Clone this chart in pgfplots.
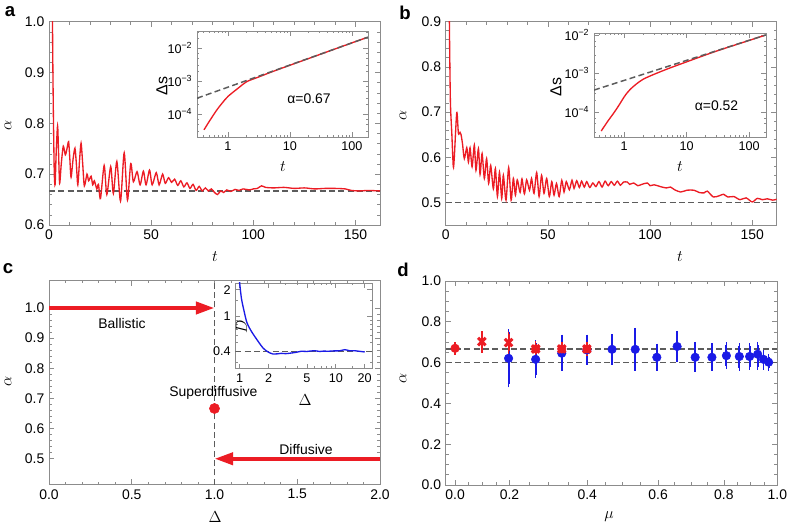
\documentclass[border=0pt]{standalone}
\usepackage{fontspec}
\setmainfont{Liberation Sans}
\usepackage{pgfplots}
\pgfplotsset{compat=1.18}
\usetikzlibrary{arrows.meta}
\definecolor{curvered}{HTML}{EC1C24}
\definecolor{curveblue}{HTML}{1A1AE6}
\definecolor{framegray}{HTML}{8C8C8C}
\definecolor{dashgray}{HTML}{5C5C5C}

\pgfplotsset{
  mmabox/.style={scale only axis, anchor=south west,
    axis line style={draw=framegray, line width=0.6bp},
    tick style={draw=framegray, line width=0.5bp},
    major tick length=4bp, minor tick length=2.2bp, tick align=inside,
    ticklabel style={font=\fontsize{10.5}{12}\selectfont, text=black},
    /pgf/number format/assume math mode=true,
    axis background/.style={fill=white}},
  inset/.style={mmabox, major tick length=3.5bp, minor tick length=1.8bp,
    ticklabel style={font=\fontsize{9.5}{11}\selectfont}},
  onedecy/.style={yticklabel style={/pgf/number format/fixed, /pgf/number format/fixed zerofill, /pgf/number format/precision=1}},
  onedecx/.style={xticklabel style={/pgf/number format/fixed, /pgf/number format/fixed zerofill, /pgf/number format/precision=1}},
  guide/.style={dashgray, line width=1.1bp, dash pattern=on 4.5bp off 2.5bp},
  bars/.style={error bars/.cd, y dir=both, y explicit,
    error bar style={draw=#1, line width=1.4bp},
    error mark options={draw=#1, line width=1.2bp, mark size=2.2bp}},
}

\begin{document}
\begin{tikzpicture}
\path[use as bounding box] (0,0) rectangle (591bp,-394.5bp);

% ---- a ----
\begin{axis}[mmabox, at={(36.75bp,-168.75bp)}, width=248.25bp, height=152.5bp,
  xmin=0, xmax=162, ymin=0.6, ymax=1.0,
  xtick={0,50,100,150}, minor x tick num=4,
  ytick={0.6,0.7,0.8,0.9,1.0}, minor y tick num=4, onedecy]
\addplot[guide] coordinates {(0,0.6667) (162,0.6667)};
\addplot[curvered, line width=1bp, smooth, tension=0.45] table {
t a
1.5 1.15
1.8 0.95
2.2 0.80
2.6 0.70
3.0 0.680
3.5 0.74
4.2 0.795
4.7 0.74
5.2 0.682
6.0 0.72
7.0 0.755
8.0 0.738
8.8 0.75
9.6 0.764
10.2 0.73
10.8 0.694
11.8 0.73
12.7 0.751
13.4 0.72
14.1 0.679
15.0 0.73
15.7 0.761
16.5 0.72
17.3 0.677
18.6 0.700
19.4 0.687
20.6 0.696
21.4 0.679
22.2 0.687
23.4 0.671
24.2 0.680
25.2 0.652
27.0 0.717
28.3 0.660
30.2 0.715
31.5 0.662
33.2 0.725
35.0 0.647
36.8 0.742
38.4 0.649
40.0 0.721
41.3 0.685
43.1 0.705
44.6 0.679
46.2 0.706
47.5 0.679
49.2 0.708
50.5 0.679
52.5 0.703
53.9 0.679
55.6 0.700
56.9 0.682
58.5 0.693
60.0 0.684
61.5 0.690
63.0 0.678
64.5 0.687
66.0 0.675
67.5 0.683
69.0 0.672
70.5 0.680
72.0 0.668
73.5 0.676
75.0 0.667
76.5 0.673
78.0 0.667
79.5 0.671
81.0 0.664
82.5 0.660
84.0 0.667
85.5 0.664
87.0 0.669
89.0 0.666
91.0 0.670
93.0 0.668
95.0 0.671
98.0 0.669
100.0 0.671
102.0 0.672
104.0 0.677
106.0 0.674
110.0 0.673
115.0 0.674
120.0 0.672
125.0 0.673
130.0 0.671
135.0 0.672
140.0 0.672
145.0 0.671
148.0 0.668
152.0 0.667
156.0 0.668
162.0 0.667
};
\end{axis}

\begin{axis}[inset, at={(147.75bp,-102.75bp)}, width=128.25bp, height=79.5bp,
  xmode=log, ymode=log, xmin=0.316, xmax=182, ymin=2e-5, ymax=0.0327,
  xtick={1,10,100}, xticklabels={1,10,100},
  minor xtick={0.4,0.5,0.6,0.7,0.8,0.9,2,3,4,5,6,7,8,9,20,30,40,50,60,70,80,90},
  ytick={1e-4,1e-3,1e-2}, yticklabels={10\textsuperscript{−4},10\textsuperscript{−3},10\textsuperscript{−2}},
  minor ytick={3e-5,5e-5,7e-5,2e-4,3e-4,5e-4,7e-4,2e-3,3e-3,5e-3,7e-3,2e-2,3e-2}]
\addplot[curvered, line width=1bp, smooth] coordinates {
(0.41,3.3e-5) (0.5,6.0e-5) (0.66,1.32e-4) (0.8,2.1e-4) (1,3.4e-4) (1.5,6.3e-4)
(2,9.5e-4) (3,1.28e-3) (5,1.86e-3) (10,3.0e-3) (30,6.3e-3) (100,1.43e-2) (170,2.04e-2)};
\addplot[guide] coordinates {(0.316,3.0e-4) (182,2.13e-2)};
\end{axis}

% ---- b ----
\begin{axis}[mmabox, at={(334.3bp,-168.75bp)}, width=248.25bp, height=152.5bp,
  xmin=0, xmax=162, ymin=0.45, ymax=0.9,
  xtick={0,50,100,150}, minor x tick num=4,
  ytick={0.5,0.6,0.7,0.8,0.9}, minor y tick num=4, onedecy]
\addplot[guide] coordinates {(0,0.5) (162,0.5)};
\addplot[curvered, line width=1bp, smooth, tension=0.45] table {
t a
1.6 1.00
1.9 0.85
2.3 0.72
3.0 0.65
3.7 0.579
4.2 0.60
5.4 0.699
6.2 0.653
7.0 0.655
7.5 0.650
8.2 0.630
9.1 0.597
10.3 0.621
11.1 0.589
11.9 0.621
12.9 0.579
14.0 0.627
14.8 0.571
16.0 0.619
16.8 0.562
17.8 0.608
18.9 0.553
20.0 0.597
21.0 0.542
22.0 0.582
23.3 0.530
24.3 0.575
25.3 0.513
26.3 0.567
27.4 0.509
28.2 0.560
29.5 0.505
30.8 0.577
32.0 0.505
33.1 0.553
34.1 0.516
35.0 0.550
36.4 0.522
37.3 0.552
38.5 0.519
39.6 0.550
41.0 0.527
42.0 0.553
43.2 0.520
44.5 0.566
45.7 0.513
46.9 0.560
48.1 0.520
49.4 0.553
50.7 0.513
51.9 0.546
53.0 0.516
54.2 0.542
55.5 0.513
56.8 0.549
57.9 0.523
59.0 0.546
60.5 0.528
61.8 0.549
62.8 0.531
64.1 0.548
65.4 0.533
66.5 0.547
67.8 0.534
69.0 0.546
70.5 0.533
72.0 0.543
73.5 0.535
75.0 0.546
76.5 0.534
78.0 0.547
79.5 0.537
81.0 0.546
82.5 0.538
84.0 0.547
85.5 0.538
87.0 0.545
88.9 0.545
90.0 0.540
92.0 0.543
94.0 0.537
96.0 0.540
98.7 0.543
100.0 0.537
102.0 0.539
105.0 0.535
108.0 0.532
110.0 0.534
112.0 0.528
115.0 0.523
118.0 0.527
121.5 0.527
124.0 0.522
126.4 0.521
128.0 0.525
131.0 0.512
134.0 0.515
136.0 0.518
138.0 0.512
141.0 0.513
144.0 0.506
147.0 0.510
150.0 0.501
152.5 0.509
155.0 0.506
157.4 0.508
160.0 0.505
162.0 0.507
};
\end{axis}

\begin{axis}[inset, at={(445.5bp,-102.75bp)}, width=129bp, height=78bp,
  xmode=log, ymode=log, xmin=0.33, xmax=186, ymin=2.24e-5, ymax=0.0112,
  xtick={1,10,100}, xticklabels={1,10,100},
  minor xtick={0.4,0.5,0.6,0.7,0.8,0.9,2,3,4,5,6,7,8,9,20,30,40,50,60,70,80,90},
  ytick={1e-4,1e-3,1e-2}, yticklabels={10\textsuperscript{−4},10\textsuperscript{−3},10\textsuperscript{−2}},
  minor ytick={3e-5,5e-5,7e-5,2e-4,3e-4,5e-4,7e-4,2e-3,3e-3,5e-3,7e-3}]
\addplot[curvered, line width=1bp, smooth] coordinates {
(0.43,3.2e-5) (0.55,5.8e-5) (0.68,9.3e-5) (0.85,1.6e-4) (1,2.45e-4) (1.26,3.9e-4)
(2,7.0e-4) (4.3,1.2e-3) (10,2.0e-3) (30,3.8e-3) (100,7.2e-3) (180,9.8e-3)};
\addplot[guide] coordinates {(0.33,3.7e-4) (186,1.0e-2)};
\end{axis}

% ---- c ----
\begin{axis}[mmabox, at={(36.75bp,-363.5bp)}, width=248.25bp, height=153.3bp,
  xmin=0, xmax=2, ymin=0.414, ymax=1.092,
  xtick={0,0.5,1,1.5,2}, minor x tick num=4,
  ytick={0.5,0.6,0.7,0.8,0.9,1.0}, minor y tick num=4, onedecx, onedecy]
\addplot[guide] coordinates {(1,0.414) (1,1.092)};
\addplot[curvered, line width=3bp, -{Triangle[length=14bp,width=9bp]}] coordinates {(0,1) (1,1)};
\addplot[curvered, line width=3bp, -{Triangle[length=14bp,width=9bp]}] coordinates {(2,0.5) (1,0.5)};
\addplot[only marks, mark=*, mark size=3.8bp, curvered] coordinates {(1,0.6667)};
\node[font=\fontsize{10.5}{12}\selectfont] at (axis cs:0.441,0.947) {Ballistic};
\node[font=\fontsize{10.5}{12}\selectfont] at (axis cs:0.993,0.718) {Superdiffusive};
\node[font=\fontsize{10.5}{12}\selectfont] at (axis cs:1.553,0.532) {Diffusive};
\end{axis}

\begin{axis}[inset, at={(176.5bp,-276.5bp)}, width=102.5bp, height=64.3bp,
  xmode=log, ymode=log, xmin=0.9, xmax=23.8, ymin=0.254, ymax=2.38,
  xtick={1,2,5,10,20}, xticklabels={1,2,5,10,20},
  minor xtick={3,4,6,7,8,9,15},
  ytick={0.4,1,2}, yticklabels={0.4,1,2},
  minor ytick={0.3,0.5,0.6,0.7,0.8,0.9,1.5}]
\addplot[guide] coordinates {(0.9,0.4) (23.8,0.4)};
\addplot[curveblue, line width=1bp, smooth] coordinates {
(0.99,2.6) (1.04,1.61) (1.11,1.14) (1.19,0.84) (1.32,0.675) (1.55,0.52) (1.75,0.435)
(1.97,0.393) (2.22,0.372) (2.45,0.374) (2.71,0.379) (3.0,0.376) (3.44,0.382) (3.9,0.39)
(4.38,0.40) (5.0,0.398) (5.5,0.403) (6.03,0.406) (6.8,0.398) (7.5,0.402) (8.3,0.40)
(9.5,0.404) (11,0.405) (12.4,0.417) (14,0.405) (15.7,0.406) (17.5,0.40) (20,0.393)};
\end{axis}

% ---- d ----
\begin{axis}[mmabox, at={(334.3bp,-363.75bp)}, width=248.7bp, height=153bp,
  xmin=-0.029, xmax=1.0, ymin=0, ymax=1,
  xtick={0,0.169,0.41,0.63,0.834,1}, xticklabels={0.0,0.2,0.4,0.6,0.8,1.0},
  minor xtick={0.042,0.085,0.127,0.229,0.29,0.35,0.465,0.52,0.575,0.681,0.732,0.783,0.876,0.917,0.959},
  ytick={0,0.2,0.4,0.6,0.8,1.0}, minor y tick num=3, onedecy]
\addplot[guide] coordinates {(-0.029,0.6667) (1,0.6667)};
\addplot[guide] coordinates {(-0.029,0.6) (1,0.6)};
\addplot[curveblue, only marks, mark=*, mark size=3.2bp, bars=curveblue]
coordinates {
(0.166,0.621) += (0,0.128) -= (0,0.128)
(0.250,0.616) += (0,0.079) -= (0,0.077)
(0.331,0.646) += (0,0.077) -= (0,0.071)
(0.409,0.662) += (0,0.061) -= (0,0.057)
(0.487,0.665) += (0,0.060) -= (0,0.062)
(0.559,0.665) += (0,0.091) -= (0,0.090)
(0.626,0.626) += (0,0.053) -= (0,0.051)
(0.689,0.679) += (0,0.062) -= (0,0.063)
(0.745,0.626) += (0,0.061) -= (0,0.057)
(0.797,0.626) += (0,0.056) -= (0,0.051)
(0.842,0.634) += (0,0.051) -= (0,0.052)
(0.882,0.630) += (0,0.050) -= (0,0.055)
(0.914,0.630) += (0,0.050) -= (0,0.050)
(0.939,0.641) += (0,0.046) -= (0,0.061)
(0.957,0.616) += (0,0.033) -= (0,0.036)
(0.973,0.602) += (0,0.024) -= (0,0.027)
};
\addplot[curvered, only marks, mark=*, mark size=3.2bp, bars=curvered]
coordinates {
(0.000,0.670) += (0,0.016) -= (0,0.016)
(0.250,0.667) += (0,0.023) -= (0,0.023)
(0.331,0.667) += (0,0.020) -= (0,0.020)
(0.409,0.667) += (0,0.020) -= (0,0.020)
};
\addplot[curvered, only marks, mark=x, mark size=4bp, mark options={line width=2.3bp}, bars=curvered]
coordinates {
(0.083,0.703) += (0,0.036) -= (0,0.041)
(0.166,0.698) += (0,0.040) -= (0,0.040)
(0.250,0.667) += (0,0.023) -= (0,0.023)
(0.331,0.667) += (0,0.020) -= (0,0.020)
(0.409,0.667) += (0,0.020) -= (0,0.020)
};
\end{axis}

% panel letters and axis labels
\begin{scope}[font=\bfseries\fontsize{14}{14}\selectfont]
\node at (7.5bp,-9bp) {a};
\node at (303.75bp,-9.75bp) {b};
\node at (6bp,-201.75bp) {c};
\node at (302.25bp,-202.5bp) {d};
\end{scope}
\begin{scope}[font=\fontsize{12}{12}\selectfont]
\node at (161.25bp,-192.75bp) {$t$};
\node at (510bp,-192.75bp) {$t$};
\node at (161.25bp,-387.75bp) {$\Delta$};
\node at (456.75bp,-387.75bp) {$\mu$};
\node[rotate=90] at (6bp,-93.75bp) {$\alpha$};
\node[rotate=90] at (302.25bp,-86.25bp) {$\alpha$};
\node[rotate=90] at (6bp,-285.75bp) {$\alpha$};
\node[rotate=90] at (302.25bp,-283.5bp) {$\alpha$};
\node[rotate=90] at (121.5bp,-64.5bp) {Δs};
\node[rotate=90] at (417bp,-65.25bp) {Δs};
\node at (212.25bp,-125.25bp) {$t$};
\node at (510bp,-125.25bp) {$t$};
\node[rotate=90] at (181bp,-245.25bp) {$D$};
\node at (228.75bp,-300bp) {$\Delta$};
\end{scope}
\begin{scope}[font=\fontsize{10.5}{12}\selectfont]
\node at (231.75bp,-74.25bp) {α=0.67};
\node at (537.4bp,-79.5bp) {α=0.52};
\end{scope}
\end{tikzpicture}
\end{document}
